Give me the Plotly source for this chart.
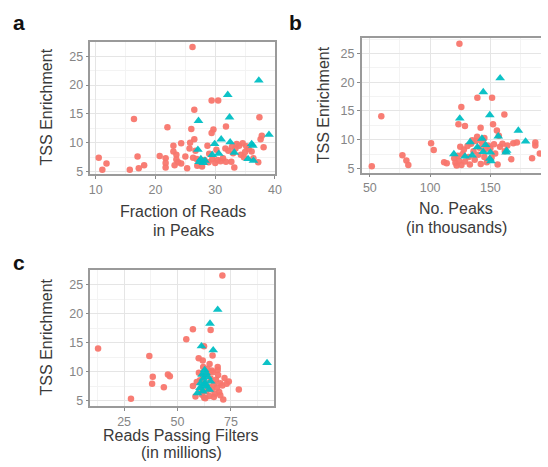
import plotly.graph_objects as go

# ---------------- data ----------------
# Panel a: Fraction of Reads in Peaks vs TSS enrichment
a_red_x = [26.2, 16.4, 22.0, 10.5, 11.8, 11.1, 15.7, 17.0, 17.2, 18.1,
           26.5, 26.0, 26.5, 29.4, 30.5, 29.7, 29.4, 31.8, 37.4, 37.6, 37.8, 38.1, 37.2,
           20.7, 21.7, 21.7, 21.7, 23.0, 23.0, 23.5, 23.5, 23.8, 24.3, 24.3, 25.3, 25.7, 25.0, 23.2,
           26.3, 26.9, 27.3, 27.0, 28.7, 31.7, 32.7, 33.2, 33.4, 34.3, 35.0, 36.1,
           28.2, 28.9, 29.5, 30.0, 30.4, 30.9, 31.3, 31.8, 29.0, 30.2, 32.2, 32.8, 33.6, 34.0,
           34.6, 35.2, 35.6, 33.0, 34.8, 36.4, 26.7, 27.8, 25.8]
a_red_y = [26.6, 14.1, 12.7, 7.4, 6.4, 5.3, 5.3, 7.6, 5.6, 6.1,
           15.7, 12.4, 10.6, 17.3, 17.3, 12.3, 11.7, 12.8, 14.4, 10.6, 11.2, 9.2, 6.6,
           7.7, 7.3, 6.5, 5.7, 9.5, 8.5, 7.9, 7.1, 6.6, 6.4, 9.9, 5.6, 9.0, 7.6, 6.1,
           7.4, 7.2, 6.8, 6.0, 9.5, 9.0, 6.7, 5.7, 9.0, 7.9, 8.4, 8.5,
           7.0, 6.6, 7.2, 6.5, 7.0, 6.8, 7.3, 6.7, 8.1, 8.8, 8.6, 9.3, 9.8, 9.5,
           9.9, 9.4, 8.9, 8.2, 7.5, 7.3, 8.6, 5.9, 10.0]
a_teal_x = [37.3, 32.1, 32.4, 27.2, 31.0, 39.0, 29.9, 32.5, 36.1, 36.3,
            27.1, 27.3, 28.0, 28.3, 29.5, 30.6, 33.2, 35.5, 36.4, 27.6]
a_teal_y = [20.8, 18.3, 14.4, 13.8, 10.6, 11.4, 9.8, 10.1, 9.8, 9.5,
            8.8, 6.7, 6.5, 6.9, 7.9, 8.1, 8.3, 7.2, 6.9, 7.2]

# Panel b: No. peaks (thousands) vs TSS enrichment
b_red_x = [124.3, 59.5, 51.6, 77.0, 80.3, 81.9, 100.8, 103.0, 111.6, 113.8,
           125.9, 123.5, 128.9, 139.2, 151.4, 141.9, 152.2, 155.4, 157.0, 161.6,
           167.3, 164.1, 169.0, 172.0, 184.6, 187.3, 187.3, 191.0,
           120, 121, 122, 123, 124, 125, 126, 127, 128, 129, 131, 132, 133, 134, 136, 137,
           138, 140, 141, 142, 143, 145, 146, 147, 148, 150, 151, 153, 154, 156, 158, 160,
           162, 145, 139, 135]
b_red_y = [26.7, 14.1, 5.4, 7.3, 6.4, 5.6, 9.4, 8.2, 6.1, 5.9,
           15.7, 12.7, 12.4, 17.3, 17.3, 12.1, 12.7, 11.6, 10.7, 14.4,
           6.6, 9.0, 9.4, 9.5, 6.8, 9.5, 9.0, 7.6,
           6.8, 6.0, 5.5, 7.2, 6.3, 8.8, 5.6, 7.5, 8.3, 6.2, 8.9, 7.0, 5.7, 9.3, 8.0, 6.5,
           9.8, 7.4, 8.6, 5.8, 9.6, 7.0, 8.4, 6.1, 9.0, 8.5, 6.9, 9.2, 7.6, 5.7, 8.8, 9.3,
           8.0, 10.3, 10.5, 9.9]
b_teal_x = [158.1, 144.1, 149.5, 124.6, 173.2, 179.2, 156.5, 143.0, 133.2, 119.7,
            134.9, 144.0, 150.0, 149.5, 150.5, 163.0, 139.2, 128.9, 146.0, 163.5]
b_teal_y = [20.7, 18.3, 14.3, 13.7, 11.6, 9.7, 10.6, 10.2, 9.6, 7.5,
            7.3, 7.9, 7.8, 6.7, 6.3, 7.8, 8.7, 7.1, 9.1, 8.1]

# Panel c: reads passing filters (millions) vs TSS enrichment
c_red_x = [71.0, 12.8, 28.2, 36.8, 38.4, 38.1, 43.6, 45.5, 46.4, 54.1, 57.2, 65.5,
           62.4, 66.4, 59.9, 61.8, 68.8, 68.8, 78.7, 71.4, 57.2, 58.4,
           60, 60.5, 61, 61.5, 62, 62.5, 63, 63.5, 64, 64.5, 65, 65.5, 66, 66.5, 67, 67.5,
           68, 68.5, 69, 69.5, 70, 71, 72, 73, 74, 64, 66, 62, 70, 63, 67, 59, 65]
c_red_y = [26.6, 14.0, 5.3, 12.7, 9.1, 7.9, 7.3, 9.5, 9.2, 15.6, 17.3, 17.2,
           14.4, 12.8, 12.3, 11.9, 10.8, 10.3, 6.9, 5.2, 7.5, 5.7,
           9.8, 8.5, 7.0, 6.0, 9.2, 5.5, 8.0, 6.6, 9.6, 7.4, 5.8, 8.8, 6.9, 9.9, 7.8, 6.2,
           8.6, 7.2, 9.4, 6.5, 8.0, 7.6, 8.9, 7.9, 8.3, 10.5, 10.2, 10.8, 5.9, 5.4, 5.6, 8.2, 11.3]
c_teal_x = [68.8, 65.2, 61.2, 66.7, 91.9, 62.7, 62.1, 62.7, 59.3, 63.6,
            61.5, 64.2, 63.0, 60.5, 64.8, 61.8, 63.3, 62.4, 65.5, 60.8]
c_teal_y = [20.7, 18.3, 14.4, 13.7, 11.5, 10.3, 8.8, 8.0, 6.3, 7.4,
            9.5, 9.1, 7.9, 7.2, 6.9, 6.6, 9.8, 7.6, 8.3, 8.0]

panel_letters = ["a", "b", "c"]
y_title = "TSS Enrichment"
x_titles = [["Fraction of Reads", "in Peaks"],
            ["No. Peaks", "(in thousands)"],
            ["Reads Passing Filters", "(in millions)"]]

# ---------------- figure ----------------
W, H = 548, 467
RED = "#F8766D"
TEAL = "#00BFC4"
FONT = "Arial, Liberation Sans, Helvetica, sans-serif"

fig = go.Figure()

def px_dom_x(a, b):
    return [a / W, min(b / W, 1.0)]

def px_dom_y(top, bottom):
    return [1 - bottom / H, 1 - top / H]

panels = [
    ("x", "y", px_dom_x(90.7, 278.0), px_dom_y(42.7, 176.0), [9.1, 40.0], [4.5, 27.4], 10, 10, True),
    ("x2", "y2", px_dom_x(366.0, 548.0), px_dom_y(38.3, 174.0), [43.2, 192.0], [4.3, 27.7], 50, 50, False),
    ("x3", "y3", px_dom_x(90.7, 276.7), px_dom_y(272.3, 409.3), [9.2, 95.0], [4.1, 27.55], 25, 25, True),
]
data = [
    (a_red_x, a_red_y, a_teal_x, a_teal_y),
    (b_red_x, b_red_y, b_teal_x, b_teal_y),
    (c_red_x, c_red_y, c_teal_x, c_teal_y),
]

layout_axes = {}
for i, ((xa, ya, xd, yd, xr, yr, xt0, xdt, mir), (rx, ry, tx, ty)) in enumerate(zip(panels, data)):
    fig.add_trace(go.Scatter(x=rx, y=ry, mode="markers", xaxis=xa, yaxis=ya,
                             marker=dict(color=RED, size=6.5, symbol="circle", opacity=0.95),
                             showlegend=False, hoverinfo="x+y"))
    fig.add_trace(go.Scatter(x=tx, y=ty, mode="markers", xaxis=xa, yaxis=ya,
                             marker=dict(color=TEAL, size=8.5, symbol="triangle-up", opacity=0.95),
                             showlegend=False, hoverinfo="x+y"))
    xkey = "xaxis" + ("" if i == 0 else str(i + 1))
    ykey = "yaxis" + ("" if i == 0 else str(i + 1))
    common = dict(showgrid=True, gridcolor="#e5e5e5", gridwidth=1, zeroline=False,
                  ticks="outside", ticklen=3, tickcolor="#8a8a8a", tickwidth=1,
                  tickfont=dict(family=FONT, size=12.5, color="#858585"),
                  showline=True, linecolor="#9a9a9a", linewidth=1.5)
    layout_axes[xkey] = dict(common, domain=xd, range=xr, anchor=ya, tick0=xt0, dtick=xdt,
                             mirror=True, ticklabelstandoff=0,
                             minor=dict(dtick=xdt / 2, showgrid=True, gridcolor="#f3f3f3",
                                        gridwidth=1, ticks=""))
    layout_axes[ykey] = dict(common, domain=yd, range=yr, anchor=xa, tick0=5, dtick=5,
                             mirror=mir,
                             minor=dict(dtick=2.5, showgrid=True, gridcolor="#f3f3f3",
                                        gridwidth=1, ticks=""))

fig.update_layout(**layout_axes)

ann = []
# panel letters
for letter, (px, py) in zip(panel_letters, [(18, 23), (299, 23), (18, 265)]):
    ann.append(dict(text="<b>%s</b>" % letter, x=px / W, y=1 - py / H, xref="paper", yref="paper",
                    showarrow=False, xanchor="center", yanchor="middle",
                    font=dict(family=FONT, size=21, color="#111111")))
# y titles
for (px, py) in [(46, 108), (327, 106), (46, 340)]:
    ann.append(dict(text=y_title, x=px / W, y=1 - py / H, xref="paper", yref="paper",
                    showarrow=False, textangle=-90, xanchor="center", yanchor="middle",
                    font=dict(family=FONT, size=16, color="#3a3a3a")))
# x titles (one annotation per line)
x_title_pos = [(185, 213, 232), (462, 210, 229), (183, 439, 456)]
for lines, (px, py1, py2) in zip(x_titles, x_title_pos):
    for txt, py in zip(lines, (py1, py2)):
        ann.append(dict(text=txt, x=px / W, y=1 - py / H, xref="paper", yref="paper",
                        showarrow=False, xanchor="center", yanchor="middle",
                        font=dict(family=FONT, size=16, color="#3a3a3a")))

fig.update_layout(annotations=ann, width=W, height=H,
                  margin=dict(l=0, r=0, t=0, b=0),
                  paper_bgcolor="white", plot_bgcolor="white",
                  showlegend=False)

fig.write_html("out.html")
